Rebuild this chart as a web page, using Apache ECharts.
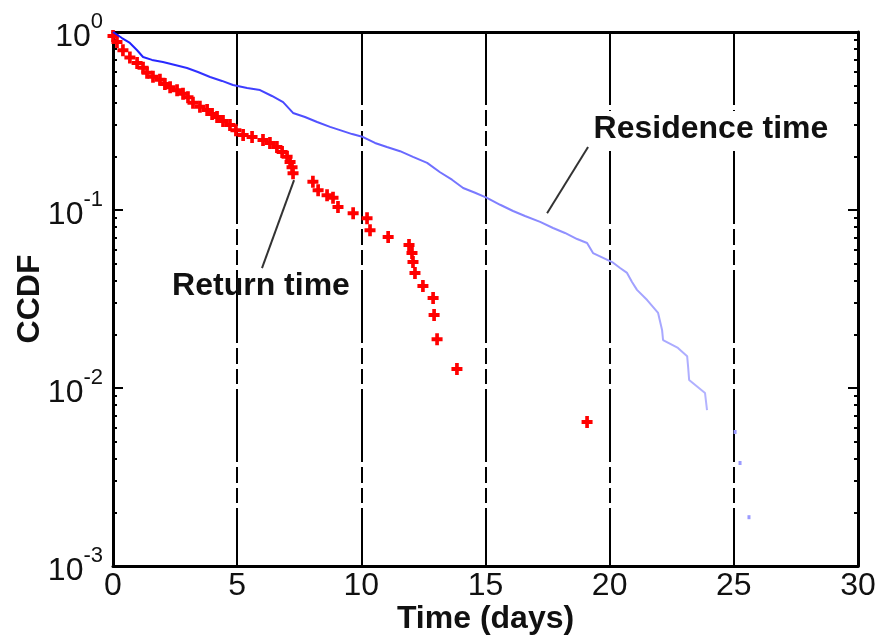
<!DOCTYPE html>
<html>
<head>
    <meta charset="utf-8">
    <title>CCDF</title>
    <script src="https://cdn.jsdelivr.net/npm/echarts@6/dist/echarts.min.js"></script>
    <style>
        * {
            margin: 0;
            padding: 0
        }

        html, body {
            width: 100%;
            height: 100%;
            background: #fff;
        }

        #main {
            width: 881px;
            height: 636px;
        }
    </style>
</head>
<body>
<div id="main"></div>
<script type="text/javascript">
    // 数据：停留时间 (蓝) 与返回时间 (红)
    var resT = [0, 0.08, 0.36, 0.68, 0.97, 1.21, 1.57, 2.01, 2.50, 2.98, 3.42, 3.91, 4.39, 4.83, 5.40, 5.92,
        6.40, 6.85, 7.25, 7.73, 8.22, 8.74, 9.14, 9.63, 10.07, 10.55, 11.03, 11.56, 12.08, 12.65, 13.17,
        13.65, 14.10, 14.58, 15.06, 15.59, 16.11, 16.59, 17.20, 17.72, 18.20, 18.69, 19.09, 19.33, 20.10,
        20.42, 20.70, 20.90, 21.10, 21.51, 21.95, 22.11, 22.15, 22.75, 23.12, 23.16, 23.20, 23.84, 23.92];
    var resP = [1.0, 0.99, 0.925, 0.868, 0.79, 0.724, 0.697, 0.678, 0.653, 0.628, 0.596, 0.559, 0.531, 0.504,
        0.485, 0.472, 0.437, 0.404, 0.351, 0.333, 0.312, 0.293, 0.281, 0.267, 0.257, 0.238, 0.226, 0.214,
        0.199, 0.184, 0.163, 0.148, 0.133, 0.125, 0.117, 0.107, 0.0987, 0.0925, 0.0857, 0.0792, 0.0743,
        0.0687, 0.0653, 0.0573, 0.051, 0.0472, 0.0443, 0.0394, 0.0356, 0.0312, 0.0264, 0.0212, 0.0186,
        0.0168, 0.0151, 0.0131, 0.0111, 0.00937, 0.00752];
    var resTailT = [25.05, 25.25, 25.61];
    var resTailP = [0.00566, 0.00379, 0.00188];

    var retT = [0, 0.16, 0.40, 0.68, 0.97, 1.21, 1.37, 1.61, 1.89, 2.09, 2.30, 2.58, 2.82, 3.02, 3.22, 3.50,
        3.79, 3.99, 4.19, 4.43, 4.71, 4.95, 5.24, 5.60, 6.04, 6.32, 6.60, 6.81, 7.01, 7.13, 7.21, 7.25,
        8.05, 8.26, 8.62, 8.86, 9.06, 9.67, 10.23, 10.35, 11.08, 11.92, 12.04, 12.08, 12.16, 12.48, 12.89,
        12.93, 13.05, 13.85, 19.09];
    var retP = [0.95, 0.88, 0.79, 0.72, 0.67, 0.63, 0.59, 0.56, 0.54, 0.51, 0.49, 0.47, 0.45, 0.43, 0.40,
        0.38, 0.365, 0.346, 0.333, 0.316, 0.30, 0.281, 0.264, 0.257, 0.247, 0.238, 0.226, 0.212, 0.199,
        0.186, 0.174, 0.161, 0.144, 0.129, 0.121, 0.117, 0.104, 0.096, 0.090, 0.077, 0.0705, 0.0636,
        0.0573, 0.051, 0.0442, 0.0374, 0.032, 0.0257, 0.0188, 0.0128, 0.00644];

    var xTicks = [0, 5, 10, 15, 20, 25, 30];
    var yExps = ['0', '-1', '-2', '-3'];
    var yMajor = [1, 0.1, 0.01, 0.001];

    // 注释文字与引线 (数据坐标)
    var resLabel = [24.08, 0.285];
    var resLine = [[19.13, 0.226], [17.48, 0.096]];
    var retLabel = [5.96, 0.0372];
    var retLine = [[7.29, 0.147], [6.0, 0.0472]];

    function zip(a, b) {
        var out = [];
        for (var i = 0; i < a.length; i++) out.push([a[i], b[i]]);
        return out;
    }

    var yMinor = [];
    [0.001, 0.01, 0.1].forEach(function (d) {
        for (var m = 1; m <= 9; m++) yMinor.push(+(d * m).toPrecision(3));
    });
    yMinor.push(1);

    var font = '"Liberation Sans", Arial, sans-serif';
    var cross = 'path://M4,0h4v4h4v4h-4v4h-4v-4h-4v-4h4z';

    function yAxisCfg(pos, major, withLabel) {
        return {
            type: 'log',
            logBase: 10,
            min: 0.001,
            max: 1,
            position: pos,
            name: withLabel ? 'CCDF' : '',
            nameLocation: 'middle',
            nameGap: 67,
            nameMoveOverlap: false,
            nameTextStyle: {fontSize: 32, fontFamily: font, color: '#111', fontWeight: 'bold'},
            axisLine: {show: !major, lineStyle: {color: '#000', width: 3}},
            axisTick: {
                show: true, inside: true, length: major ? 10 : 4,
                lineStyle: {color: '#000', width: 2},
                customValues: major ? yMajor : yMinor
            },
            axisLabel: {
                show: withLabel,
                margin: 10,
                customValues: yMajor,
                formatter: function (v) {
                    var e = yExps[yMajor.indexOf(+v.toPrecision(3))];
                    return '{b|10}{s|' + e + '}';
                },
                rich: {
                    b: {fontSize: 32, fontFamily: font, color: '#111', lineHeight: 42, verticalAlign: 'bottom'},
                    s: {fontSize: 22, fontFamily: font, color: '#111', lineHeight: 42, verticalAlign: 'top'}
                }
            },
            splitLine: {show: false},
            minorTick: {show: false}
        };
    }

    var myChart = echarts.init(document.getElementById('main'));
    myChart.setOption({
        animation: false,
        backgroundColor: '#fff',
        grid: {left: 113, right: 23, top: 32, bottom: 70, outerBoundsMode: 'none'},
        xAxis: [{
            type: 'value',
            min: 0,
            max: 30,
            interval: 5,
            position: 'bottom',
            name: 'Time (days)',
            nameLocation: 'middle',
            nameGap: 37,
            nameMoveOverlap: false,
            nameTextStyle: {fontSize: 32, fontFamily: font, color: '#111', fontWeight: 'bold'},
            axisLine: {lineStyle: {color: '#000', width: 3}},
            axisTick: {show: false},
            axisLabel: {
                fontSize: 32, fontFamily: font, color: '#111', margin: 4,
                customValues: xTicks
            },
            splitLine: {
                show: true,
                lineStyle: {color: '#000', width: 2, type: [73, 5, 16, 5, 15, 5], dashOffset: 0}
            }
        }, {
            type: 'value',
            min: 0,
            max: 30,
            position: 'top',
            axisLine: {lineStyle: {color: '#000', width: 3}},
            axisTick: {show: false},
            axisLabel: {show: false},
            splitLine: {show: false}
        }],
        yAxis: [
            yAxisCfg('left', false, true),
            yAxisCfg('left', true, false),
            yAxisCfg('right', false, false),
            yAxisCfg('right', true, false)
        ],
        series: [
            {
                name: 'Residence time',
                type: 'line',
                data: zip(resT, resP),
                showSymbol: false,
                lineStyle: {
                    width: 2,
                    color: new echarts.graphic.LinearGradient(0, 0, 1, 0, [
                        {offset: 0, color: '#1a1aff'},
                        {offset: 0.5, color: '#6a6aff'},
                        {offset: 1, color: '#b4b4ff'}
                    ])
                },
                markLine: {
                    silent: true,
                    symbol: ['none', 'none'],
                    label: {show: false},
                    lineStyle: {color: '#333', width: 2, type: 'solid'},
                    data: [
                        [{coord: resLine[0]}, {coord: resLine[1]}],
                        [{coord: retLine[0]}, {coord: retLine[1]}]
                    ]
                },
                markPoint: {
                    silent: true,
                    symbolSize: 0,
                    data: [
                        {
                            name: 'Residence time', coord: resLabel,
                            label: {
                                show: true, position: 'inside', formatter: '{b}',
                                fontSize: 32, fontFamily: font, color: '#111', fontWeight: 'bold',
                                backgroundColor: '#fff', padding: [2, 2]
                            }
                        },
                        {
                            name: 'Return time', coord: retLabel,
                            label: {
                                show: true, position: 'inside', formatter: '{b}',
                                fontSize: 32, fontFamily: font, color: '#111', fontWeight: 'bold'
                            }
                        }
                    ]
                }
            },
            {
                name: 'Residence tail',
                type: 'scatter',
                data: zip(resTailT, resTailP),
                symbol: 'rect',
                symbolSize: [3, 4],
                itemStyle: {color: '#9b9bff', opacity: 1}
            },
            {
                name: 'Return time',
                type: 'scatter',
                data: zip(retT, retP),
                symbol: cross,
                symbolSize: [11, 12],
                itemStyle: {color: '#ff0000', opacity: 1}
            }
        ]
    });
</script>
</body>
</html>
